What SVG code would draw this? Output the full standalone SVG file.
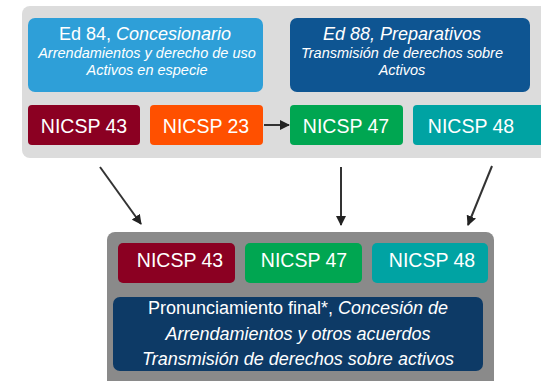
<svg xmlns="http://www.w3.org/2000/svg" width="541" height="381" viewBox="0 0 541 381">
<defs>
<style>
text{font-family:"Liberation Sans",Arial,sans-serif;fill:#ffffff;text-anchor:middle}
.n{font-size:19.5px}
.h{font-size:18px}
.s{font-size:14.5px;font-style:italic}
.b{font-size:18px}
.i{font-style:italic}
.c{stroke:#333;stroke-width:2;fill:none}
</style>
<marker id="ah" viewBox="0 0 10 10" refX="9" refY="5" markerWidth="5" markerHeight="5" orient="auto" markerUnits="strokeWidth"><path d="M0,0 L10,5 L0,10 z" fill="#222"/></marker>
</defs>
<rect width="541" height="381" fill="#ffffff"/>
<rect x="22" y="6" width="540" height="152" rx="8" fill="#dcdcdc"/>
<rect x="107" y="232" width="387" height="160" rx="8" fill="#8a8a8a"/>
<g id="ed84">
<rect x="28" y="18" width="235" height="74" rx="7" fill="#2e9fd8"/>
<text x="145" y="40" class="h">Ed 84, <tspan class="i">Concesionario</tspan></text>
<text x="147" y="58" class="s">Arrendamientos y derecho de uso</text>
<text x="147" y="75" class="s">Activos en especie</text>
</g>
<g id="ed88">
<rect x="290" y="18" width="240" height="74" rx="7" fill="#0e5592"/>
<text x="402" y="40" class="h i">Ed 88, Preparativos</text>
<text x="402" y="58" class="s">Transmisión de derechos sobre</text>
<text x="402" y="75" class="s">Activos</text>
</g>
<g id="t43">
<rect x="28" y="105" width="112" height="40" rx="4" fill="#8b0022"/>
<text x="84" y="133" class="n">NICSP 43</text>
</g>
<g id="t23">
<rect x="150" y="105" width="113" height="40" rx="4" fill="#ff5000"/>
<text x="206" y="133" class="n">NICSP 23</text>
</g>
<g id="t47">
<rect x="290" y="105" width="113" height="40" rx="4" fill="#00a651"/>
<text x="346" y="133" class="n">NICSP 47</text>
</g>
<g id="t48">
<rect x="413" y="105" width="140" height="40" rx="4" fill="#00a3a3"/>
<text x="471" y="133" class="n">NICSP 48</text>
</g>
<g id="b43">
<rect x="118" y="243" width="117" height="40" rx="5" fill="#8b0022"/>
<text x="180" y="267" class="n">NICSP 43</text>
</g>
<g id="b47">
<rect x="245" y="243" width="117" height="40" rx="5" fill="#00a651"/>
<text x="304" y="267" class="n">NICSP 47</text>
</g>
<g id="b48">
<rect x="372" y="243" width="116" height="40" rx="5" fill="#00a3a3"/>
<text x="432" y="267" class="n">NICSP 48</text>
</g>
<g id="final">
<rect x="113" y="297" width="370" height="74" rx="7" fill="#0d3a66"/>
<text x="298" y="314" class="b">Pronunciamiento final*, <tspan class="i">Concesión de</tspan></text>
<text x="298" y="340" class="b i">Arrendamientos y otros acuerdos</text>
<text x="298" y="365" class="b i">Transmisión de derechos sobre activos</text>
</g>
<g id="connectors">
<line x1="264" y1="125" x2="289" y2="125" class="c" stroke="#111" marker-end="url(#ah)"/>
<line x1="100" y1="167" x2="141" y2="224" class="c" marker-end="url(#ah)"/>
<line x1="341" y1="167" x2="341" y2="225" class="c" marker-end="url(#ah)"/>
<line x1="492" y1="166" x2="468" y2="225" class="c" marker-end="url(#ah)"/>
</g>
</svg>
